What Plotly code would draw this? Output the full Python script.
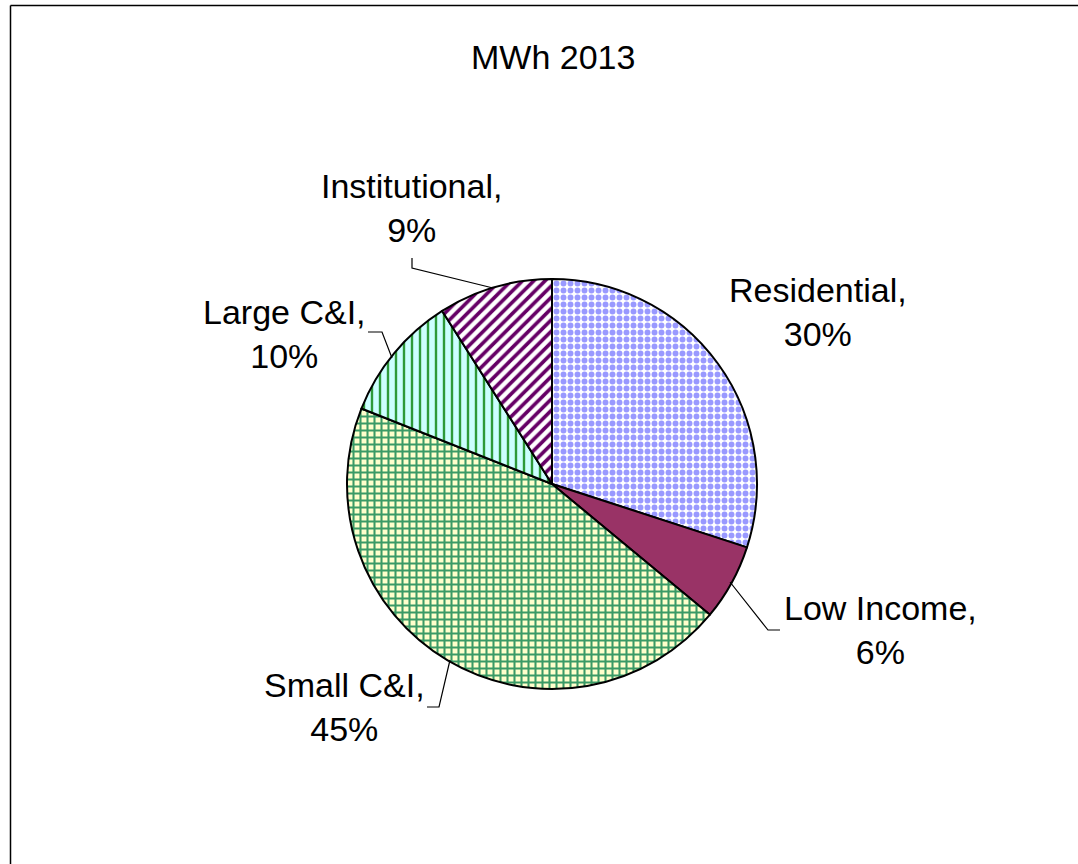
import plotly.graph_objects as go

# ---- data ----
categories = ["Residential", "Low Income", "Small C&I", "Large C&I", "Institutional"]
shares = [30, 6, 45, 10, 9]
title_text = "MWh 2013"

W, H = 1078, 864
FONT = "Liberation Sans, Arial, sans-serif"

def px(x, y):
    return x / W, 1 - y / H

# pie placement (center 552,484 ; radius 205) in pixels
cx, cy, r = 552, 484, 205
dx0, dy0 = px(cx - r, cy + r)
dx1, dy1 = px(cx + r, cy - r)

fig = go.Figure(go.Pie(
    labels=categories,
    values=shares,
    sort=False,
    direction="clockwise",
    rotation=0,
    textinfo="none",
    hoverinfo="label+percent",
    showlegend=False,
    domain=dict(x=[dx0, dx1], y=[dy0, dy1]),
    marker=dict(
        colors=["#FFFFFF", "#993366", "#FFFFCC", "#CCFFFF", "#FFFFFF"],
        line=dict(color="black", width=2),
        pattern=dict(
            shape=[".", "", "+", "|", "/"],
            fgcolor=["#9999FF", "#993366", "#3A9A66", "#2E9A3A", "#660066"],
            bgcolor=["#FFFFFF", "#993366", "#FFFFCC", "#CCFFFF", "#FFFFFF"],
            size=[7, 8, 7, 8, 8],
            solidity=[0.55, 0.3, 0.5, 0.3, 0.45],
            fillmode="replace",
        ),
    ),
))

# labels: (center x, center y) in pixels
label_pos = {
    "Residential": (818, 312),
    "Low Income": (880, 630),
    "Small C&I": (344, 707),
    "Large C&I": (284, 334),
    "Institutional": (411, 208),
}
annotations = []
for cat, val in zip(categories, shares):
    x, y = label_pos[cat]
    ax_, ay_ = px(x, y)
    annotations.append(dict(
        x=ax_, y=ay_, xref="paper", yref="paper",
        text=f"{cat},<br>{val}%", showarrow=False,
        xanchor="center", yanchor="middle", align="center",
        font=dict(family=FONT, size=34, color="black"),
    ))
tx, ty = px(553, 57)
annotations.append(dict(x=tx, y=ty, xref="paper", yref="paper", text=title_text,
                        showarrow=False, xanchor="center", yanchor="middle",
                        font=dict(family=FONT, size=34, color="black")))

# leader lines (pixel polylines)
leaders = [
    [(412, 258), (412, 268), (493, 288)],
    [(368, 332), (382, 332), (392, 358)],
    [(730, 582), (768, 630), (780, 630)],
    [(450, 660), (439, 707), (427, 707)],
]
shapes = []
for pts in leaders:
    path = ""
    for i, (x, y) in enumerate(pts):
        X, Y = px(x, y)
        path += ("M" if i == 0 else "L") + f"{X},{Y} "
    shapes.append(dict(type="path", xref="paper", yref="paper", path=path,
                       line=dict(color="black", width=1.2)))

# chart-area border (top and left edges visible)
bx0, by0 = px(10.5, 5.5)
shapes.append(dict(type="line", xref="paper", yref="paper", x0=bx0, y0=by0, x1=1, y1=by0,
                   line=dict(color="black", width=1.5)))
shapes.append(dict(type="line", xref="paper", yref="paper", x0=bx0, y0=by0, x1=bx0, y1=0,
                   line=dict(color="black", width=1.5)))

fig.update_layout(
    width=W, height=H,
    margin=dict(l=0, r=0, t=0, b=0),
    paper_bgcolor="white", plot_bgcolor="white",
    annotations=annotations, shapes=shapes,
)

fig.write_html("out.html",
               config={"displayModeBar": False},
               post_script="document.body.style.margin='0';document.body.style.overflow='hidden';")
